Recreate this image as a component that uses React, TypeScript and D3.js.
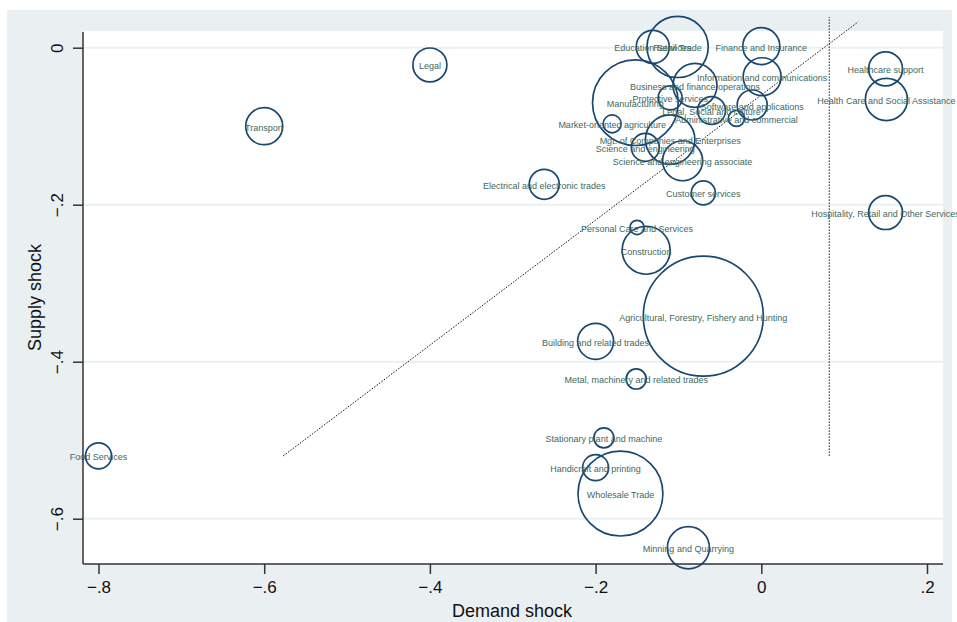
import React, { useEffect, useRef } from "react";
import * as d3 from "d3";

// occupations / sectors
const names = [
  "Legal", "Transport", "Food Services", "Electrical and electronic trades",
  "Education Services", "Retail Trade", "Finance and Insurance", "Information and communications",
  "Manufacturing", "Business and finance operations", "Protective services", "Software and applications",
  "Legal, Social and culture", "Administrative and commercial", "Market-oriented agriculture",
  "Mgt. of Companies and Enterprises", "Science and engineering", "Science and engineering associate",
  "Customer services", "Personal Care and Services", "Construction",
  "Agricultural, Forestry, Fishery and Hunting", "Building and related trades",
  "Metal, machinery and related trades", "Stationary plant and machine", "Handicraft and printing",
  "Wholesale Trade", "Minning and Quarrying", "Healthcare support",
  "Health Care and Social Assistance", "Hospitality, Retail and Other Services",
];
const demand = [
  -0.4, -0.6, -0.8, -0.262,
  -0.131, -0.101, 0.0, 0.001,
  -0.152, -0.08, -0.11, -0.011,
  -0.06, -0.03, -0.18,
  -0.11, -0.14, -0.095,
  -0.07, -0.15, -0.139,
  -0.07, -0.2,
  -0.151, -0.19, -0.2,
  -0.17, -0.088, 0.15,
  0.151, 0.15,
];
const supply = [
  -0.022, -0.1, -0.52, -0.174,
  0.001, 0.001, 0.002, -0.037,
  -0.07, -0.048, -0.064, -0.073,
  -0.08, -0.09, -0.097,
  -0.117, -0.127, -0.144,
  -0.185, -0.229, -0.258,
  -0.342, -0.374,
  -0.422, -0.497, -0.535,
  -0.568, -0.637, -0.027,
  -0.066, -0.21,
];
const weight = [
  8, 9.5, 4.7, 6.25,
  7.6, 26, 9.5, 10,
  51, 13.4, 4, 6.25,
  5.4, 1.8, 2.25,
  17, 5.4, 11.1,
  4, 1.4, 16,
  100, 9,
  2.8, 2.8, 4.7,
  50, 12.3, 8,
  12.3, 8,
];

const xTicks = [-0.8, -0.6, -0.4, -0.2, 0, 0.2];
const yTicks = [0, -0.2, -0.4, -0.6];
const fmt = (v: number) => (v === 0 ? "0" : d3.format(".1f")(v).replace("0.", "."));

// reference lines [x1, y1, x2, y2]
const fitLine = [-0.577, -0.52, 0.117, 0.033];
const vLine = [0.082, -0.52, 0.082, 0.039];

const App = () => {
  const svgRef = useRef<SVGSVGElement>(null);

  useEffect(() => {
    const width = 957;
    const height = 622;
    const left = 83, right = 943, top = 31, bottom = 564;
    const font = "'Liberation Sans', Arial, Helvetica, sans-serif";

    const svg = d3.select(svgRef.current!);
    svg.selectAll("*").remove();
    svg.attr("width", width).attr("height", height)
      .style("display", "block").style("position", "absolute").style("left", "0px").style("top", "0px");

    svg.append("rect").attr("x", 7).attr("y", 10).attr("width", 945).attr("height", 612).attr("fill", "#eaeff2");
    svg.append("rect").attr("x", left).attr("y", top).attr("width", right - left).attr("height", bottom - top).attr("fill", "#fff");

    const x = d3.scaleLinear().domain([-0.8, 0.2]).range([98.5, 927]);
    const y = d3.scaleLinear().domain([0, -0.6]).range([47.7, 518.7]);
    const r = d3.scaleSqrt().domain([0, 100]).range([0, 60]);

    // grid
    svg.append("g").selectAll("line").data(yTicks).join("line")
      .attr("x1", left).attr("x2", right)
      .attr("y1", (d) => y(d)).attr("y2", (d) => y(d))
      .attr("stroke", "#eaf1f3").attr("stroke-width", 2);

    // reference lines
    svg.append("g").selectAll("line").data([fitLine, vLine]).join("line")
      .attr("x1", (d) => x(d[0])).attr("y1", (d) => y(d[1]))
      .attr("x2", (d) => x(d[2])).attr("y2", (d) => y(d[3]))
      .attr("stroke", "#111").attr("stroke-width", 1).attr("stroke-dasharray", "1.5,1.5");

    const idx = d3.range(names.length);

    // bubbles
    svg.append("g").selectAll("circle").data(idx).join("circle")
      .attr("cx", (i) => x(demand[i])).attr("cy", (i) => y(supply[i]))
      .attr("r", (i) => r(weight[i]))
      .attr("fill", "none").attr("stroke", "#1a476f").attr("stroke-width", 1.7);

    // labels
    svg.append("g").selectAll("text").data(idx).join("text")
      .attr("x", (i) => x(demand[i])).attr("y", (i) => y(supply[i]))
      .attr("dy", "0.5em").attr("text-anchor", "middle")
      .style("font-family", font).style("font-size", "9px")
      .attr("fill", "#40695f")
      .text((i) => names[i]);

    // axes
    const xAxis = svg.append("g").attr("transform", `translate(0,${bottom})`)
      .call(d3.axisBottom(x).tickValues(xTicks).tickFormat((d) => fmt(+d)).tickSize(10).tickSizeOuter(0));
    xAxis.select(".domain").attr("d", `M${left},0H${right}`).attr("stroke", "#333").attr("stroke-width", 1.5);
    xAxis.selectAll(".tick line").attr("stroke", "#333").attr("stroke-width", 1.5);
    xAxis.selectAll(".tick text").attr("y", 17).attr("fill", "#111").style("font-family", font).style("font-size", "17px");

    const yAxis = svg.append("g").attr("transform", `translate(${left},0)`)
      .call(d3.axisLeft(y).tickValues(yTicks).tickFormat((d) => fmt(+d)).tickSize(10).tickSizeOuter(0));
    yAxis.select(".domain").attr("d", `M0,${top + 1}V${bottom}`).attr("stroke", "#333").attr("stroke-width", 1.5);
    yAxis.selectAll(".tick line").attr("stroke", "#333").attr("stroke-width", 1.5);
    yAxis.selectAll(".tick text")
      .attr("x", null).attr("dy", null)
      .attr("transform", "translate(-26,0) rotate(-90)")
      .attr("text-anchor", "middle").attr("dominant-baseline", "central")
      .attr("fill", "#111").style("font-family", font).style("font-size", "17px");

    svg.append("text").attr("x", (left + right) / 2 - 1).attr("y", 617)
      .attr("text-anchor", "middle").style("font-family", font).style("font-size", "18px").attr("fill", "#111")
      .text("Demand shock");
    svg.append("text").attr("transform", `translate(35,${(top + bottom) / 2}) rotate(-90)`)
      .attr("text-anchor", "middle").attr("dominant-baseline", "central")
      .style("font-family", font).style("font-size", "18px").attr("fill", "#111")
      .text("Supply shock");
  }, []);

  return <svg ref={svgRef}></svg>;
};

export default App;
